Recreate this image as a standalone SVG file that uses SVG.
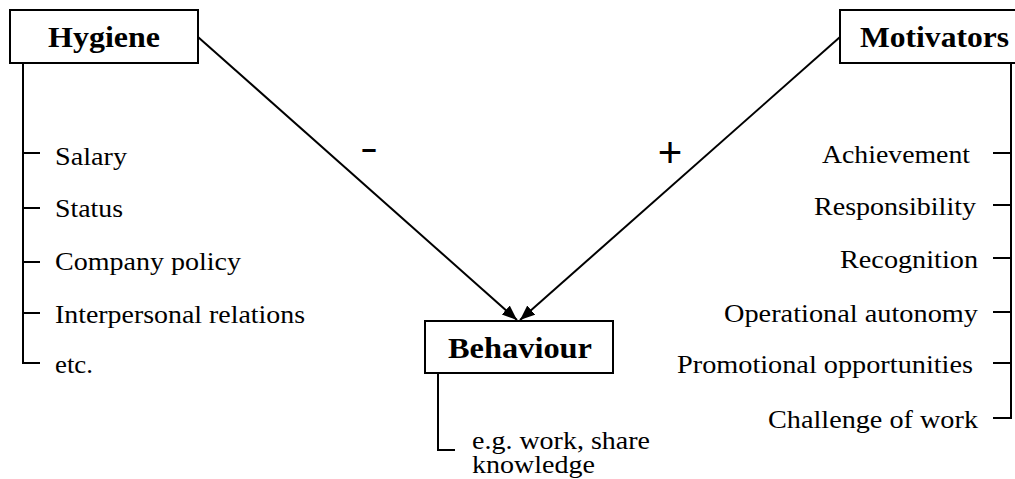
<svg xmlns="http://www.w3.org/2000/svg" width="1015" height="479" viewBox="0 0 1015 479">
<style>
.box{fill:#fff;stroke:#000;stroke-width:2}
.ln{fill:none;stroke:#000;stroke-width:2}
.t{font-family:"Liberation Serif","Times New Roman",serif;font-size:26px;fill:#000}
.b{font-family:"Liberation Serif","Times New Roman",serif;font-size:30px;font-weight:bold;fill:#000}
.s{font-family:"Liberation Sans",Arial,sans-serif;fill:#000}
</style>
<defs>
<marker id="ah" markerUnits="userSpaceOnUse" markerWidth="16" markerHeight="14" refX="15" refY="6" orient="auto">
<path d="M0,0 L15,6 L0,12 Z" fill="#000"/>
</marker>
</defs>
<g id="connectors">
<line class="ln" x1="198" y1="37" x2="517" y2="320" marker-end="url(#ah)"/>
<line class="ln" x1="840" y1="37" x2="520" y2="320" marker-end="url(#ah)"/>
<text class="s" x="369" y="161" font-size="38" text-anchor="middle" textLength="18" lengthAdjust="spacingAndGlyphs">-</text>
<text class="s" x="670" y="167" font-size="42" text-anchor="middle">+</text>
</g>
<g id="hygiene">
<rect class="box" x="10" y="10" width="188" height="53"/>
<text class="b" x="48" y="47" textLength="112" lengthAdjust="spacingAndGlyphs">Hygiene</text>
<path class="ln" d="M23,63 V363 H40 M23,153 H40 M23,208 H40 M23,262 H40 M23,313 H40"/>
<text class="t" x="55" y="165" textLength="72" lengthAdjust="spacingAndGlyphs">Salary</text>
<text class="t" x="55" y="217" textLength="68" lengthAdjust="spacingAndGlyphs">Status</text>
<text class="t" x="55" y="270" textLength="186" lengthAdjust="spacingAndGlyphs">Company policy</text>
<text class="t" x="55" y="323" textLength="250" lengthAdjust="spacingAndGlyphs">Interpersonal relations</text>
<text class="t" x="55" y="373" textLength="38" lengthAdjust="spacingAndGlyphs">etc.</text>
</g>
<g id="motivators">
<rect class="box" x="840" y="10" width="185" height="53"/>
<text class="b" x="860" y="47" textLength="149" lengthAdjust="spacingAndGlyphs">Motivators</text>
<path class="ln" d="M1011,63 V418 H993 M993,153 H1011 M993,205 H1011 M993,258 H1011 M993,312 H1011 M993,363 H1011"/>
<text class="t" x="822" y="163" textLength="148" lengthAdjust="spacingAndGlyphs">Achievement</text>
<text class="t" x="814" y="215" textLength="162" lengthAdjust="spacingAndGlyphs">Responsibility</text>
<text class="t" x="840" y="268" textLength="138" lengthAdjust="spacingAndGlyphs">Recognition</text>
<text class="t" x="724" y="322" textLength="254" lengthAdjust="spacingAndGlyphs">Operational autonomy</text>
<text class="t" x="677" y="373" textLength="296" lengthAdjust="spacingAndGlyphs">Promotional opportunities</text>
<text class="t" x="768" y="428" textLength="210" lengthAdjust="spacingAndGlyphs">Challenge of work</text>
</g>
<g id="behaviour">
<rect class="box" x="425" y="321" width="188" height="52"/>
<text class="b" x="448" y="358" textLength="144" lengthAdjust="spacingAndGlyphs">Behaviour</text>
<path class="ln" d="M438,373 V450 H455"/>
<text class="t" x="472" y="449" textLength="178" lengthAdjust="spacingAndGlyphs">e.g. work, share</text>
<text class="t" x="472" y="473" textLength="123" lengthAdjust="spacingAndGlyphs">knowledge</text>
</g>
</svg>
